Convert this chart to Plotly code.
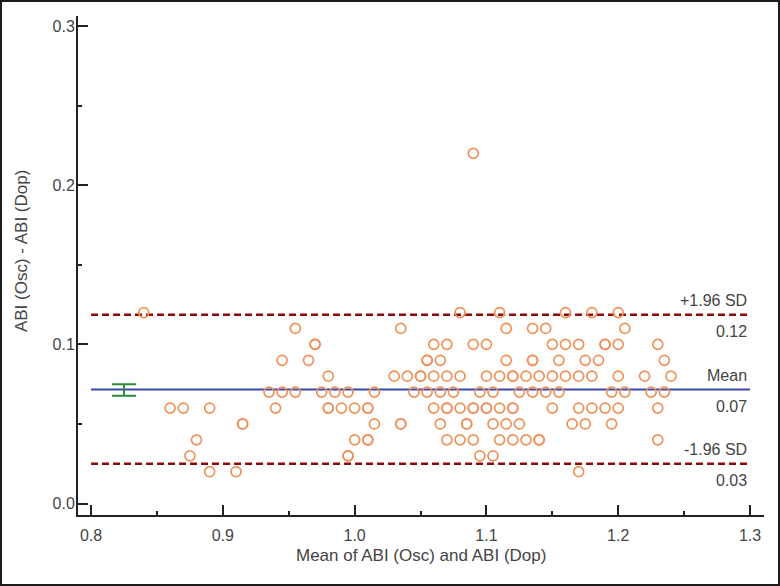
import plotly.graph_objects as go

# ---- data (Bland-Altman plot) ----
diff_rows = [0.22, 0.12, 0.11, 0.10, 0.09, 0.08, 0.07, 0.06, 0.05, 0.04, 0.03, 0.02]
mean_022 = [1.09]
mean_012 = [0.84, 1.08, 1.11, 1.16, 1.18, 1.20]
mean_011 = [0.955, 1.035, 1.115, 1.135, 1.145, 1.205]
mean_010 = [0.97, 0.97, 1.06, 1.07, 1.09, 1.10, 1.15, 1.16, 1.17, 1.19, 1.19, 1.20, 1.23]
mean_009 = [0.945, 0.965, 1.055, 1.055, 1.065, 1.115, 1.135, 1.135, 1.155, 1.175, 1.185, 1.235]
mean_008 = [0.98, 1.03, 1.04, 1.05, 1.05, 1.06, 1.07, 1.08, 1.10, 1.11, 1.12, 1.12, 1.13,
            1.14, 1.15, 1.16, 1.17, 1.18, 1.20, 1.22, 1.24]
mean_007 = [0.935, 0.945, 0.955, 0.975, 0.985, 0.995, 1.015, 1.045, 1.055, 1.065, 1.075,
            1.095, 1.105, 1.125, 1.135, 1.145, 1.155, 1.195, 1.205, 1.225, 1.235]
mean_006 = [0.86, 0.87, 0.89, 0.94, 0.98, 0.98, 0.99, 1.00, 1.01, 1.01, 1.06, 1.07, 1.07,
            1.08, 1.09, 1.09, 1.10, 1.10, 1.11, 1.12, 1.12, 1.15, 1.17, 1.18, 1.19, 1.20, 1.23]
mean_005 = [0.915, 0.915, 1.015, 1.035, 1.035, 1.065, 1.085, 1.085, 1.105, 1.115, 1.125,
            1.165, 1.175, 1.195]
mean_004 = [0.88, 1.00, 1.01, 1.01, 1.07, 1.08, 1.09, 1.11, 1.12, 1.13, 1.14, 1.14, 1.23]
mean_003 = [0.875, 0.995, 0.995, 1.095, 1.105]
mean_002 = [0.89, 0.91, 1.17]

mean_rows = [mean_022, mean_012, mean_011, mean_010, mean_009, mean_008,
             mean_007, mean_006, mean_005, mean_004, mean_003, mean_002]

bias_mean = 0.0716
upper_loa = 0.1186
lower_loa = 0.0250
ci_low, ci_high = 0.0677, 0.0750
ci_x = 0.825
line_x = [0.8, 1.3]
label_names = ["+1.96 SD", "Mean", "-1.96 SD"]
label_values = ["0.12", "0.07", "0.03"]

x_ticks = [0.8, 0.9, 1.0, 1.1, 1.2, 1.3]
y_ticks = [0.0, 0.1, 0.2, 0.3]

xs, ys = [], []
for d, row in zip(diff_rows, mean_rows):
    xs += row
    ys += [d] * len(row)

FONT = "Liberation Sans, Arial, sans-serif"
TXT = "#444444"

fig = go.Figure()

# limits of agreement
for yv in (upper_loa, lower_loa):
    fig.add_trace(go.Scatter(x=line_x, y=[yv, yv], mode="lines",
                             line=dict(color="#8b0a0a", width=2.5, dash="7px,4px"),
                             hoverinfo="skip", showlegend=False))
# mean line
fig.add_trace(go.Scatter(x=line_x, y=[bias_mean, bias_mean], mode="lines",
                         line=dict(color="#3a48a8", width=2),
                         hoverinfo="skip", showlegend=False))
# CI of mean
fig.add_trace(go.Scatter(x=[ci_x], y=[bias_mean], mode="markers",
                         marker=dict(size=1, color="rgba(0,0,0,0)"),
                         error_y=dict(type="data", symmetric=False,
                                      array=[ci_high - bias_mean],
                                      arrayminus=[bias_mean - ci_low],
                                      width=12, thickness=2, color="#2e8b3a"),
                         hoverinfo="skip", showlegend=False))
# points
fig.add_trace(go.Scatter(x=xs, y=ys, mode="markers",
                         marker=dict(symbol="circle-open", size=10,
                                     color="#f0915a", line=dict(width=1.7, color="#f0915a")),
                         showlegend=False))

# right-side labels
for name, val, yv in zip(label_names, label_values, [upper_loa, bias_mean, lower_loa]):
    fig.add_annotation(x=1.3, y=yv, xref="x", yref="y", text=name, showarrow=False,
                       xanchor="right", yanchor="bottom", yshift=4, xshift=-1,
                       font=dict(family=FONT, size=16, color=TXT))
    fig.add_annotation(x=1.3, y=yv, xref="x", yref="y", text=val, showarrow=False,
                       xanchor="right", yanchor="top", yshift=-6, xshift=-1,
                       font=dict(family=FONT, size=16, color=TXT))

# axis titles
fig.add_annotation(x=0.5, y=-0.082, xref="paper", yref="paper",
                   text="Mean of ABI (Osc) and ABI (Dop)", showarrow=False,
                   xanchor="center", yanchor="middle",
                   font=dict(family=FONT, size=17, color=TXT))
fig.add_annotation(x=-0.083, y=0.529, xref="paper", yref="paper",
                   text="ABI (Osc) - ABI (Dop)", showarrow=False, textangle=-90,
                   xanchor="center", yanchor="middle",
                   font=dict(family=FONT, size=17, color=TXT))

# outer frame
fig.add_shape(type="rect", xref="paper", yref="paper",
              x0=-0.1122, x1=1.0219, y0=-0.1403, y1=1.0301,
              line=dict(color="#1a1a1a", width=2))

axis_common = dict(showgrid=False, zeroline=False, showline=True, linecolor="#222222",
                   linewidth=2, ticks="inside", ticklen=10, tickwidth=2,
                   tickcolor="#222222", tickformat=".1f", automargin=False,
                   tickfont=dict(family=FONT, size=16, color=TXT))

fig.update_xaxes(range=[0.7901, 1.3106], tickvals=x_ticks, ticklabelstandoff=5,
                 minor=dict(ticks="inside", ticklen=4, tickwidth=1.5, dtick=0.05,
                            tick0=0.8, tickcolor="#222222"),
                 **axis_common)
fig.update_yaxes(range=[-0.0072, 0.3063], tickvals=y_ticks, ticklabelstandoff=-2,
                 minor=dict(ticks="inside", ticklen=4, tickwidth=1.5, dtick=0.05,
                            tick0=0.0, tickcolor="#222222"),
                 **axis_common)

fig.update_layout(width=780, height=586, margin=dict(l=78, r=16, t=16, b=71),
                  plot_bgcolor="white", paper_bgcolor="white",
                  font=dict(family=FONT, color=TXT))

fig.write_html("out.html", config={"displayModeBar": False},
               post_script="document.body.style.margin='0';document.body.style.overflow='hidden';")
